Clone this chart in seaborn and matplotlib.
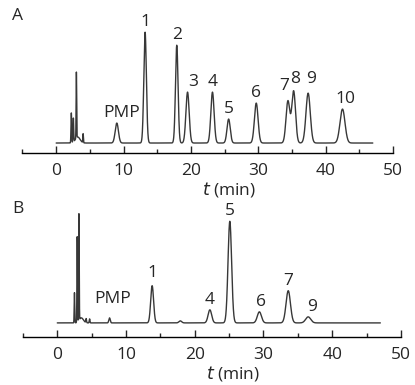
import numpy as np
import pandas as pd
import matplotlib
matplotlib.use('Agg')
import matplotlib.pyplot as plt
import seaborn as sns
from matplotlib.ticker import MultipleLocator

sns.set_style('white')
plt.rcParams['font.family'] = ['Open Sans', 'DejaVu Sans']

# Peak tables (time in min, height in relative units, sigma in min)
a_times = [2.25, 2.55, 3.0, 3.2, 4.0, 9.0, 13.2, 17.9, 19.5, 23.2, 25.6, 29.7, 34.4, 35.25, 37.4, 42.5]
a_heights = [30, 24, 66, 6, 9, 20, 111, 98, 51, 51, 24, 40, 42, 52, 50, 34]
a_sigmas = [0.05, 0.05, 0.04, 0.35, 0.04, 0.24, 0.19, 0.19, 0.24, 0.24, 0.24, 0.27, 0.28, 0.28, 0.32, 0.37]

b_times = [2.5, 2.9, 3.15, 3.5, 4.2, 4.7, 7.6, 13.8, 17.9, 22.2, 25.1, 29.4, 33.6, 36.5]
b_heights = [30, 85, 106, 5, 4, 4, 5, 37, 2, 13, 101, 11, 32, 6]
b_sigmas = [0.04, 0.04, 0.04, 0.3, 0.05, 0.05, 0.1, 0.21, 0.2, 0.26, 0.26, 0.3, 0.32, 0.37]

a_labels = ['PMP', '1', '2', '3', '4', '5', '6', '7', '8', '9', '10']
a_label_t = [9.7, 13.2, 17.9, 20.3, 23.2, 25.6, 29.7, 33.8, 35.4, 37.8, 42.9]
a_label_h = [20, 111, 98, 51, 51, 24, 40, 47, 54, 54, 34]

b_labels = ['PMP', '1', '4', '5', '6', '7', '9']
b_label_t = [8.0, 13.8, 22.2, 25.1, 29.7, 33.6, 37.1]
b_label_h = [14, 40, 13, 101, 11, 32, 6]

t_start, t_end = 0.0, 47.0


def trace(times, heights, sigmas):
    t = np.linspace(t_start, t_end, 6000)
    y = np.zeros_like(t)
    for tr, h, s in zip(times, heights, sigmas):
        y += h * np.exp(-0.5 * ((t - tr) / s) ** 2)
    return pd.DataFrame({'t': t, 'signal': y})


fig = plt.figure(figsize=(4.15, 3.85), dpi=100)
ax_a = fig.add_axes([0.0542, 0.6026, 0.8928, 0.35])
ax_b = fig.add_axes([0.0552, 0.1247, 0.911, 0.345])

panels = [
    (ax_a, trace(a_times, a_heights, a_sigmas), a_labels, a_label_t, a_label_h, (-10, 125), 'A'),
    (ax_b, trace(b_times, b_heights, b_sigmas), b_labels, b_label_t, b_label_h, (-14, 118), 'B'),
]

for ax, df, labels, lt, lh, ylim, letter in panels:
    sns.lineplot(data=df, x='t', y='signal', ax=ax, color='#383838', linewidth=1.0)
    for lab, x, h in zip(labels, lt, lh):
        ax.text(x, h + 2, lab, ha='center', va='bottom', fontsize=12.5)
    ax.set_xlim(-5, 50)
    ax.set_ylim(*ylim)
    ax.set_yticks([])
    ax.set_ylabel('')
    for s in ['top', 'right', 'left']:
        ax.spines[s].set_visible(False)
    ax.spines['bottom'].set_color('black')
    ax.spines['bottom'].set_linewidth(1.0)
    ax.xaxis.set_major_locator(MultipleLocator(10))
    ax.xaxis.set_minor_locator(MultipleLocator(5))
    ax.set_xticks(range(0, 51, 10))
    ax.tick_params(axis='x', which='major', direction='in', length=5, width=1, labelsize=12.5, pad=7)
    ax.tick_params(axis='x', which='minor', direction='in', length=3, width=1)
    ax.tick_params(axis='x', which='both', bottom=True)
    ax.set_xlabel('$\\it{t}$ (min)', fontsize=12.5, labelpad=1)
    ax.xaxis.set_label_coords(0.557, -0.2)
    ax.patch.set_alpha(0)

fig.text(0.041, 0.98, 'A', fontsize=12.5, ha='center', va='top')
fig.text(0.043, 0.478, 'B', fontsize=12.5, ha='center', va='top')

fig.savefig('out.png', dpi=100)
